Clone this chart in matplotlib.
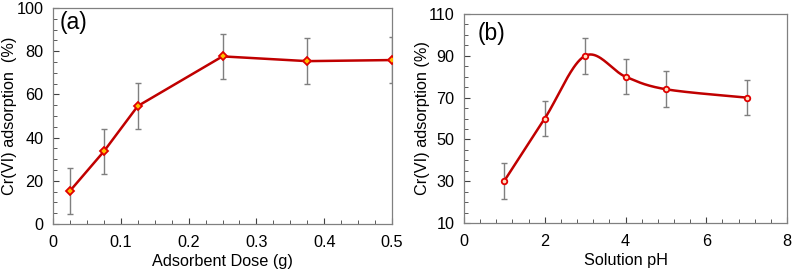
import numpy as np
import matplotlib.pyplot as plt
from matplotlib.ticker import MultipleLocator

plt.rcParams['font.family'] = ['Liberation Sans', 'DejaVu Sans']

# data
dose = [0.025, 0.075, 0.125, 0.25, 0.375, 0.5]
dose_ads = [15.3, 33.6, 54.6, 77.6, 75.4, 75.9]
dose_err = [10.5, 10.5, 10.5, 10.5, 10.5, 10.5]

ph = [1, 2, 3, 4, 5, 7]
ph_ads = [30.2, 60.0, 90.0, 80.0, 74.0, 70.0]
ph_err = [8.5, 8.5, 8.5, 8.5, 8.5, 8.5]

dose_ticks = [0, 0.1, 0.2, 0.3, 0.4, 0.5]
dose_labels = ['0', '0.1', '0.2', '0.3', '0.4', '0.5']
ph_yticks = [10, 30, 50, 70, 90, 110]

line_col = '#C00000'
err_col = '#7F7F7F'
fs = 11.7


def smooth(x, y, n=40):
    # catmull-rom style smoothing like a spreadsheet "smoothed line"
    x = np.asarray(x, float)
    y = np.asarray(y, float)
    px = np.r_[x[0], x, x[-1]]
    py = np.r_[y[0], y, y[-1]]
    xs, ys = [], []
    t = np.linspace(0, 1, n)[:, None]
    for i in range(1, len(px) - 2):
        p0 = np.array([px[i - 1], py[i - 1]])
        p1 = np.array([px[i], py[i]])
        p2 = np.array([px[i + 1], py[i + 1]])
        p3 = np.array([px[i + 2], py[i + 2]])
        c1 = p1 + (p2 - p0) / 6
        c2 = p2 - (p3 - p1) / 6
        pts = ((1 - t) ** 3 * p1 + 3 * (1 - t) ** 2 * t * c1
               + 3 * (1 - t) * t ** 2 * c2 + t ** 3 * p2)
        xs.append(pts[:, 0])
        ys.append(pts[:, 1])
    return np.concatenate(xs), np.concatenate(ys)


fig = plt.figure(figsize=(7.96, 2.76), dpi=100)
ax1 = fig.add_axes([53 / 796, 1 - 224 / 276, 339 / 796, 216 / 276])
ax2 = fig.add_axes([464 / 796, 1 - 223 / 276, 323 / 796, 209 / 276])

# (a) adsorbent dose
ax1.errorbar(dose, dose_ads, yerr=dose_err, fmt='none', ecolor=err_col,
             elinewidth=1, capsize=2.5, capthick=1, zorder=1)
ax1.plot(dose, dose_ads, color=line_col, lw=1.8, marker='D', ms=4.5,
         mfc='#FFC000', mec='#E00000', mew=1.3, zorder=3)
ax1.set_xlim(0, 0.5)
ax1.set_ylim(0, 100)
ax1.set_xticks(dose_ticks)
ax1.set_xticklabels(dose_labels)
ax1.xaxis.set_minor_locator(MultipleLocator(0.025))
ax1.yaxis.set_major_locator(MultipleLocator(20))
ax1.yaxis.set_minor_locator(MultipleLocator(5))
ax1.set_xlabel('Adsorbent Dose (g)', fontsize=fs, labelpad=3)
ax1.set_ylabel('Cr(VI) adsorption  (%)', fontsize=fs, va='center')
ax1.yaxis.set_label_coords(-0.128, 0.5)
ax1.text(0.02, 0.985, '(a)', transform=ax1.transAxes, fontsize=16.5, va='top')

# (b) solution pH
ax2.errorbar(ph, ph_ads, yerr=ph_err, fmt='none', ecolor=err_col,
             elinewidth=1, capsize=2.5, capthick=1, zorder=1)
sx, sy = smooth(ph, ph_ads)
ax2.plot(sx, sy, color=line_col, lw=1.8, zorder=2)
ax2.plot(ph, ph_ads, ls='none', marker='o', ms=4, mfc='#FFE0C0',
         mec='#E00000', mew=1.3, zorder=3)
ax2.set_xlim(0, 8)
ax2.set_ylim(10, 110)
ax2.xaxis.set_major_locator(MultipleLocator(2))
ax2.xaxis.set_minor_locator(MultipleLocator(0.4))
ax2.set_yticks(ph_yticks)
ax2.yaxis.set_minor_locator(MultipleLocator(5))
ax2.set_xlabel('Solution pH', fontsize=fs, labelpad=3)
ax2.set_ylabel('Cr(VI) adsorption (%)', fontsize=fs, va='center')
ax2.yaxis.set_label_coords(-0.127, 0.5)
ax2.text(0.043, 0.96, '(b)', transform=ax2.transAxes, fontsize=16.5, va='top')

for ax in (ax1, ax2):
    for s in ax.spines.values():
        s.set_color('#808080')
        s.set_linewidth(0.9)
    ax.tick_params(which='both', direction='in', color='#404040', labelsize=fs,
                   top=False, right=False)
    ax.tick_params(axis='x', which='major', pad=8)
    ax.tick_params(axis='y', which='major', pad=7)
    ax.tick_params(which='major', length=4)
    ax.tick_params(which='minor', length=3)

fig.savefig('out.png', dpi=100)
